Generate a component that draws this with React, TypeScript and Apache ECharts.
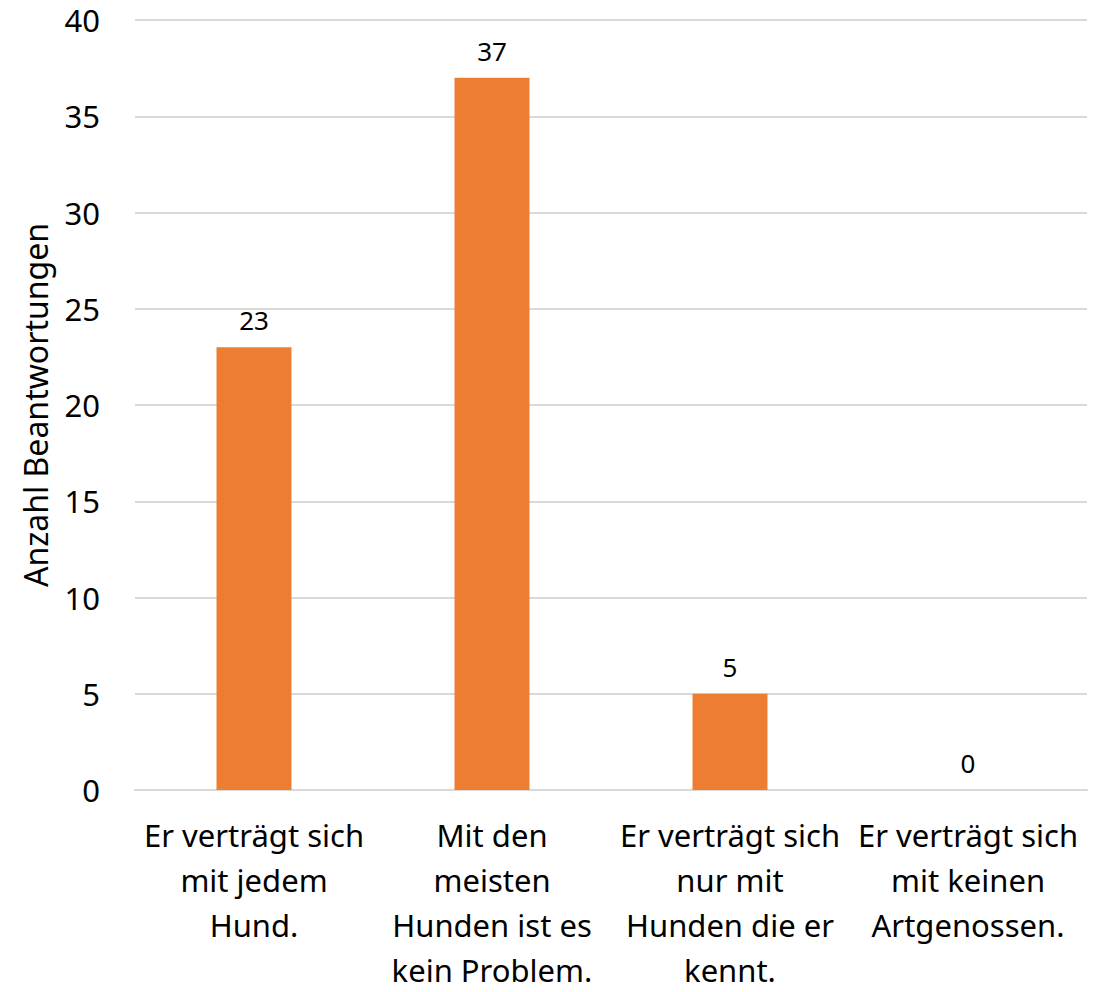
import React, { useEffect, useRef } from "react";
import * as echarts from "echarts";

const categories = [
  "Er verträgt sich\nmit jedem\nHund.",
  "Mit den\nmeisten\nHunden ist es\nkein Problem.",
  "Er verträgt sich\nnur mit\nHunden die er\nkennt.",
  "Er verträgt sich\nmit keinen\nArtgenossen.",
];
const values = [23, 37, 5, 0];
const yAxisName = "Anzahl Beantwortungen";

const FONT = "'Noto Sans', 'Open Sans', sans-serif";

export default function App() {
  const ref = useRef<HTMLDivElement>(null);
  useEffect(() => {
    document.body.style.margin = "0";
    const chart = echarts.init(ref.current!, null, { renderer: "svg" });
    chart.setOption({
      animation: false,
      backgroundColor: "#ffffff",
      grid: {
        left: 135,
        right: 25,
        top: 20,
        bottom: 202,
        containLabel: false,
        outerBoundsMode: "none",
      },
      xAxis: {
        type: "category",
        data: categories,
        axisLine: { show: true, lineStyle: { color: "#d9d9d9", width: 2 } },
        axisTick: { show: false },
        axisLabel: {
          interval: 0,
          margin: 22,
          color: "#000000",
          fontFamily: FONT,
          fontSize: 31,
          lineHeight: 45,
          align: "center",
        },
      },
      yAxis: {
        type: "value",
        min: 0,
        max: 40,
        interval: 5,
        name: yAxisName,
        nameLocation: "middle",
        nameGap: 84,
        nameTextStyle: { color: "#000000", fontFamily: FONT, fontSize: 32 },
        axisLine: { show: false },
        axisTick: { show: false },
        axisLabel: { color: "#000000", fontFamily: FONT, fontSize: 31, margin: 35 },
        splitLine: { lineStyle: { color: "#d9d9d9", width: 2 } },
      },
      series: [
        {
          type: "bar",
          data: values,
          barWidth: "31.5%",
          itemStyle: { color: "#ED7D31" },
          label: {
            show: true,
            position: "top",
            distance: 14,
            color: "#000000",
            fontFamily: FONT,
            fontSize: 26,
          },
        },
      ],
    });
    return () => chart.dispose();
  }, []);
  return <div ref={ref} style={{ width: 1112, height: 992 }} />;
}
